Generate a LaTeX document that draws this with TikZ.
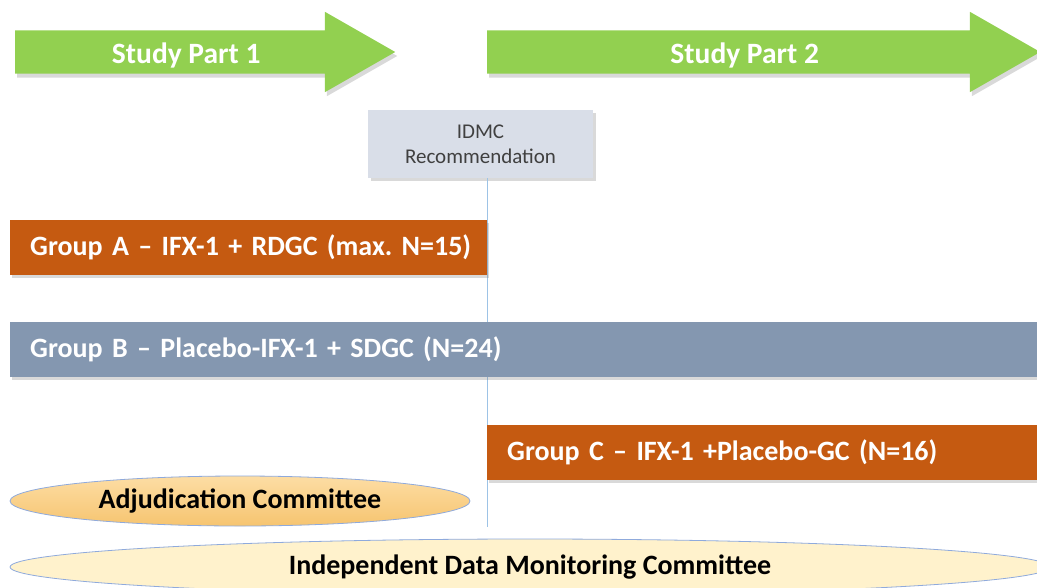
\documentclass[tikz,border=0pt]{standalone}
\usepackage{fontspec}
\setmainfont{Carlito}
\usepackage{xcolor}
\usetikzlibrary{arrows.meta,positioning,shapes.geometric,shapes.arrows,shadows,calc}

\definecolor{partgreen}{HTML}{92D050}
\definecolor{grouporange}{HTML}{C55A11}
\definecolor{groupblue}{HTML}{8497B0}
\definecolor{recgray}{HTML}{D9DEE8}
\definecolor{linkblue}{HTML}{9DC3E6}
\definecolor{rimblue}{HTML}{8FAADC}
\definecolor{adjtop}{HTML}{FDDDA4}
\definecolor{adjbottom}{HTML}{F6C470}
\definecolor{idmcfill}{HTML}{FFF2CC}

\frenchspacing
\hfuzz=20pt
\begin{document}
\begin{tikzpicture}[x=1pt, y=-1pt,
  part/.style={single arrow, fill=partgreen, anchor=tail, text=white, font=\fontsize{29.5}{32}\selectfont\bfseries,
    inner xsep=0pt, inner ysep=0pt, text height=33pt, text depth=10pt, single arrow head extend=18.5pt,
    single arrow tip angle=59.5, drop shadow={shadow xshift=2pt, shadow yshift=-4pt, opacity=0.3}},
  grp/.style={rectangle, anchor=north west, minimum height=55pt, inner xsep=20pt, align=left, text=white,
    font=\fontsize{28}{30}\selectfont\bfseries, drop shadow={shadow xshift=2pt, shadow yshift=-3pt, opacity=0.3}},
  cmte/.style={ellipse, draw=rimblue, line width=0.8pt, font=\fontsize{28}{32}\selectfont\bfseries, inner sep=0pt}
]
  \path[use as bounding box, clip] (0,0) rectangle (1037,587);

  \node[part, minimum height=380pt] (p1) at (15,52) {Study Part 1};
  \node[part, minimum height=553pt] (p2) at (487,52) {Study Part 2};

  \node[rectangle, fill=recgray, minimum width=225pt, minimum height=68pt, align=center, text=black!75,
    font=\fontsize{21}{25}\selectfont, drop shadow={shadow xshift=3pt, shadow yshift=-3pt, opacity=0.3}]
    (rec) at (480.5,144) {IDMC\\Recommendation};
  \coordinate (recend) at (487,527);
  \draw[linkblue, line width=0.8pt] (rec.south -| recend) -- (recend);

  \node[grp, fill=grouporange, text width=437pt] (ga) at (10,220) {\mbox{Group A – IFX-1 + RDGC (max. N=15)}};
  \node[grp, fill=groupblue, text width=987pt] (gb) at (10,322) {Group B – Placebo-IFX-1 + SDGC (N=24)};
  \node[grp, fill=grouporange, text width=510pt] (gc) at (487,425) {Group C – IFX-1 +Placebo-GC (N=16)};

  \node[cmte, top color=adjtop, bottom color=adjbottom, minimum width=460pt, minimum height=50pt]
    (adj) at (240,501) {Adjudication Committee};
  \node[cmte, fill=idmcfill, minimum width=1040pt, minimum height=56pt]
    (idmc) at (530,567) {Independent Data Monitoring Committee};
\end{tikzpicture}
\end{document}
